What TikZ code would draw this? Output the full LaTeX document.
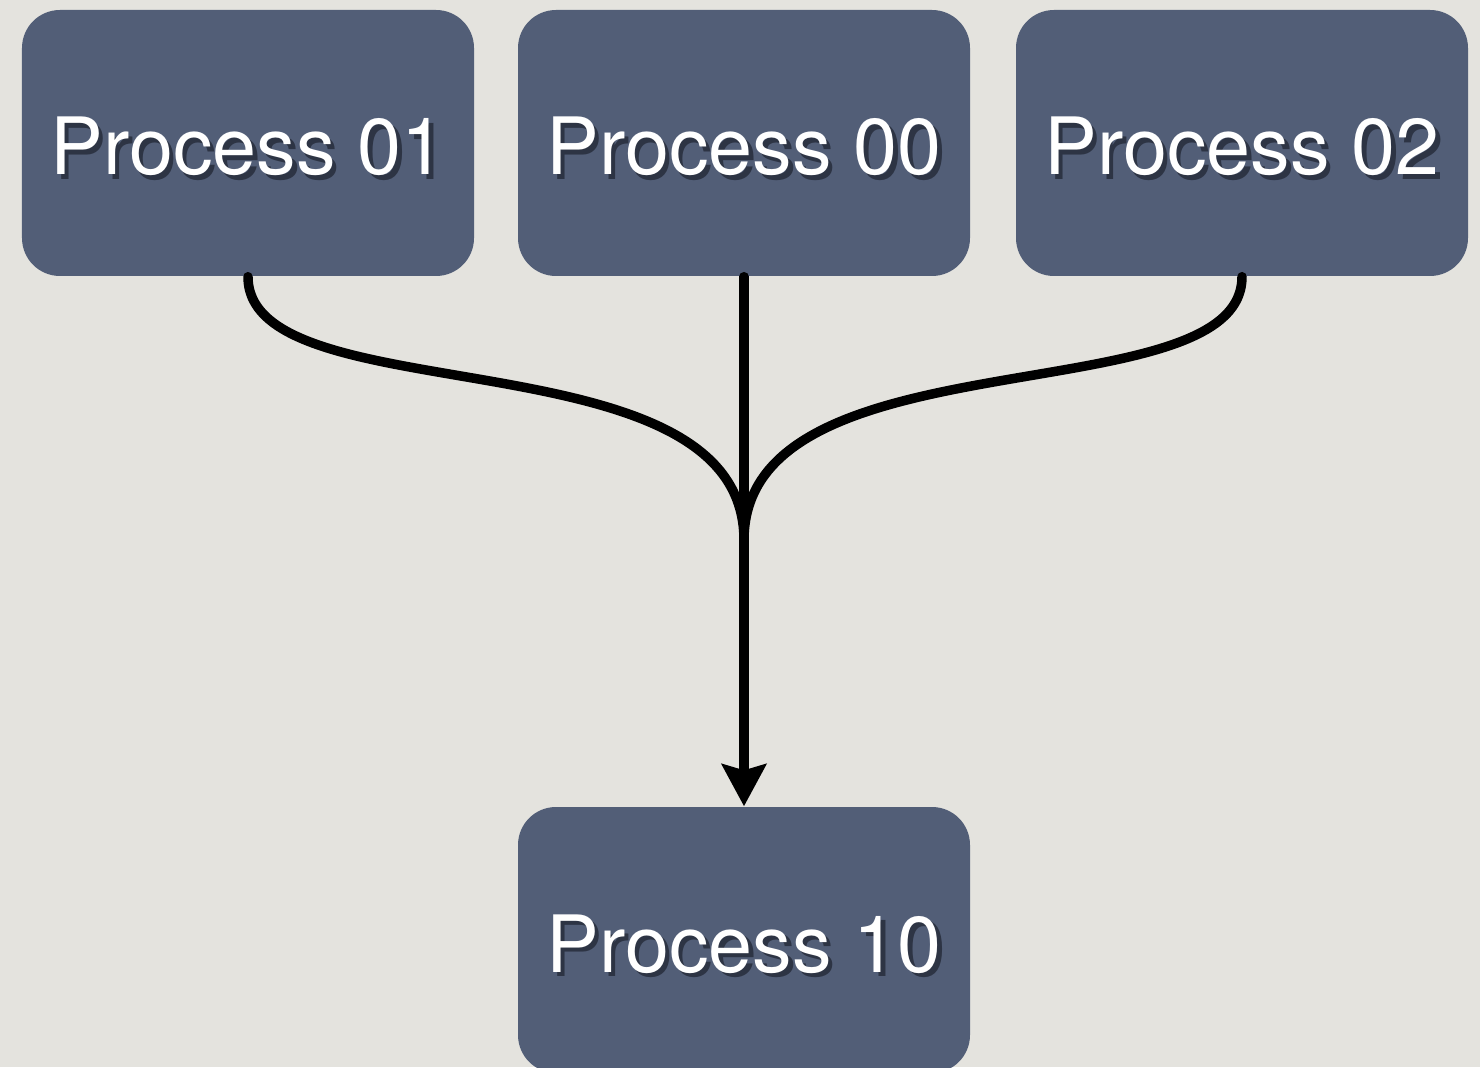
\documentclass[tikz,border=0pt]{standalone}
\usepackage{fontspec}
\setmainfont{TeX Gyre Heros}
\usepackage{tikz}
\usetikzlibrary{arrows.meta}
\definecolor{paper}{RGB}{228,227,222}
\definecolor{slate}{RGB}{82,94,119}
\definecolor{slateshadow}{RGB}{45,52,68}
\newcommand{\proctext}[1]{\rlap{\raisebox{-1.3pt}{\hspace{1.3pt}\color{slateshadow}#1}}#1}

\begin{document}
\begin{tikzpicture}[
    proc/.style={fill=slate, rounded corners=0.38cm, minimum width=4.52cm,
      minimum height=2.66cm, inner sep=0pt, text=white,
      text height=0.64cm, text depth=0pt,
      font=\fontsize{22.5}{27}\selectfont},
    flow/.style={line width=2.7pt, line cap=round}
  ]
    \def\w{14.80}
    \def\h{10.67}
    \fill[paper] (0,0) rectangle (\w,\h);
    \useasboundingbox (0,0) rectangle (\w,\h);
    \node[proc] (p01) at (2.48, 9.24) {\proctext{Process 01}};
    \node[proc] (p00) at (7.44, 9.24) {\proctext{Process 00}};
    \node[proc] (p02) at (12.42, 9.24) {\proctext{Process 02}};
    \node[proc] (p10) at (7.44, 1.27) {\proctext{Process 10}};
    \coordinate (merge) at (7.44, 5.27);
    % branches joining the main line
    \draw[flow] (p01.south) .. controls +(0,-1.40) and +(0,2.10) .. (merge);
    \draw[flow] (p02.south) .. controls +(0,-1.40) and +(0,2.10) .. (merge);
    \draw[flow, -{Stealth[length=0.42cm, width=0.44cm, inset=0.06cm]}] (p00.south) -- (p10.north);
  \end{tikzpicture}
\end{document}
